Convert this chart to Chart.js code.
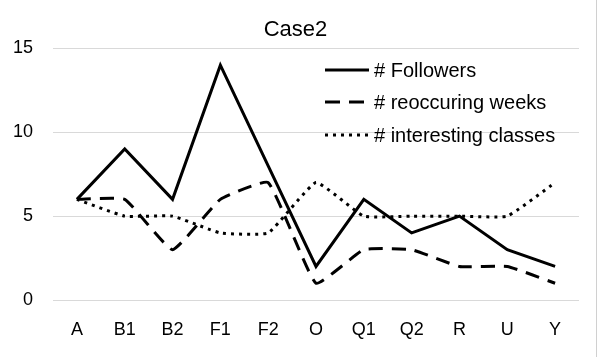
<!DOCTYPE html>
<html><head><meta charset="utf-8">
<script src="https://cdn.jsdelivr.net/npm/chart.js@4/dist/chart.umd.min.js"></script>
<style>
html,body{margin:0;padding:0;background:#fff;}
#wrap{position:relative;width:599px;height:357px;}
#edge{position:absolute;left:596px;top:0;width:1px;height:357px;background:#d0d0d0;}
</style></head>
<body>
<div id="wrap"><canvas id="c" width="599" height="357"></canvas><div id="edge"></div></div>
<script>
const categories = ['A','B1','B2','F1','F2','O','Q1','Q2','R','U','Y'];
const followers = [6,9,6,14,8,2,6,4,5,3,2];
const reoccuringWeeks = [6,6,3,6,7,1,3,3,2,2,1];
const interestingClasses = [6,5,5,4,4,7,5,5,5,5,7];
const yTicks = [0,5,10,15];

const FONT = "'Liberation Sans', 'DejaVu Sans', sans-serif";

const legendPlugin = {
  id: 'inLegend',
  afterDraw(chart) {
    const ctx = chart.ctx;
    const x0 = 325, x1 = 369, tx = 374;
    const ys = [70, 102, 135];
    chart.data.datasets.forEach((ds, i) => {
      ctx.save();
      ctx.strokeStyle = ds.borderColor;
      ctx.lineWidth = ds.borderWidth;
      ctx.setLineDash(ds.legendDash || []);
      ctx.beginPath();
      ctx.moveTo(x0, ys[i]);
      ctx.lineTo(x1, ys[i]);
      ctx.stroke();
      ctx.setLineDash([]);
      ctx.fillStyle = '#000';
      ctx.font = "20px " + FONT;
      ctx.textBaseline = 'middle';
      ctx.fillText(ds.label, tx, ys[i] + 1);
      ctx.restore();
    });
  }
};

new Chart(document.getElementById('c'), {
  type: 'line',
  data: {
    labels: categories,
    datasets: [
      {label:'# Followers', data: followers, borderColor:'#000', borderWidth:3, pointRadius:0, tension:0, fill:false, legendDash:[]},
      {label:'# reoccuring weeks', data: reoccuringWeeks, borderColor:'#000', borderWidth:3, borderDash:[14,9], pointRadius:0, tension:0.12, fill:false, legendDash:[15,9]},
      {label:'# interesting classes', data: interestingClasses, borderColor:'#000', borderWidth:3, borderDash:[3,5], pointRadius:0, tension:0.12, fill:false, legendDash:[3,5]}
    ]
  },
  options: {
    responsive: false,
    animation: false,
    layout: {padding: {left: 12, right: 20, top: 0, bottom: 0}},
    plugins: {
      legend: {display: false},
      tooltip: {enabled: false},
      title: {display: true, text: 'Case2', color:'#000', font:{family: FONT, size: 22, weight:'normal'}, padding:{top: 17, bottom: 5}}
    },
    scales: {
      x: {
        offset: true,
        grid: {display: false, drawTicks: false},
        border: {display: false},
        ticks: {color:'#000', font:{family: FONT, size: 18}, padding: 19},
        afterFit(scale) { scale.height = 57; }
      },
      y: {
        min: 0, max: 15,
        afterBuildTicks(axis) { axis.ticks = yTicks.map(v => ({value: v})); },
        grid: {color:'#d9d9d9', lineWidth:1, drawTicks:false},
        border: {display: false},
        ticks: {color:'#000', font:{family: FONT, size: 18}, padding: 20},
        afterFit(scale) { scale.width = 41; }
      }
    }
  },
  plugins: [legendPlugin]
});
</script>
</body></html>
